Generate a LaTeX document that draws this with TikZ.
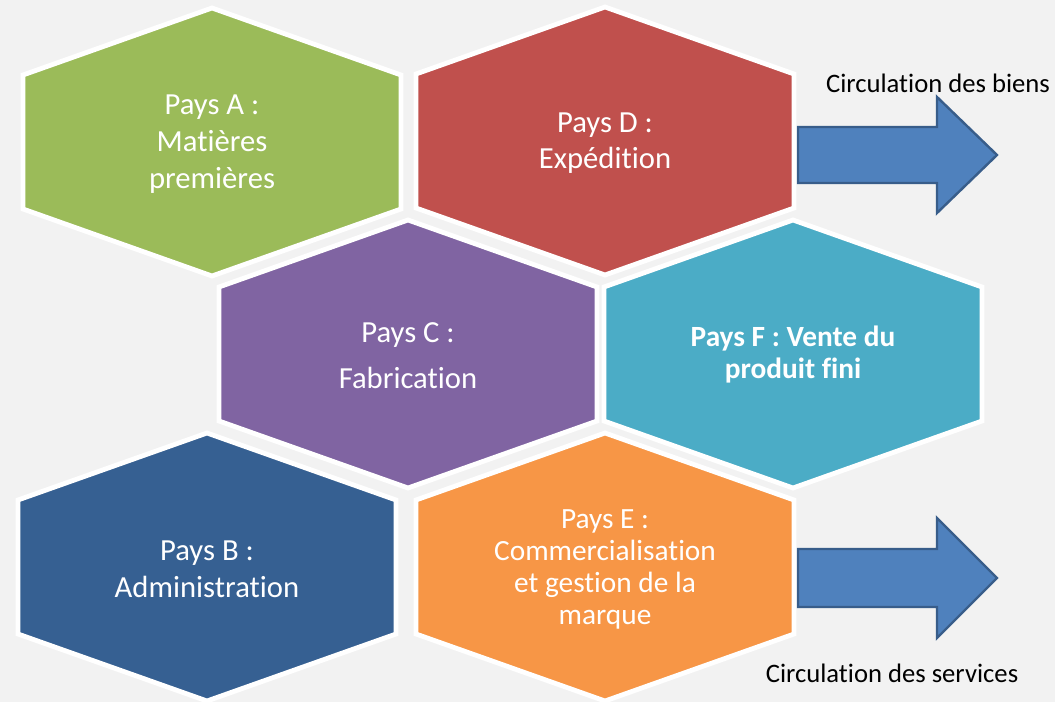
\documentclass[tikz,border=0pt]{standalone}
\usepackage{fontspec}
\setmainfont{Carlito}[Ligatures={NoCommon}]
\usetikzlibrary{positioning}

\definecolor{fond}{HTML}{F2F2F2}
\definecolor{hexvert}{HTML}{9BBB59}
\definecolor{hexrouge}{HTML}{C0504D}
\definecolor{hexviolet}{HTML}{8064A2}
\definecolor{hexturquoise}{HTML}{4BACC6}
\definecolor{hexbleu}{HTML}{366092}
\definecolor{hexorange}{HTML}{F79646}
\definecolor{flechefond}{HTML}{4F81BD}
\definecolor{flechebord}{HTML}{385D8A}

\begin{document}
\begin{tikzpicture}[
  x=0.75pt, y=-0.75pt,
  font=\fontsize{23}{27.5}\selectfont,
  hexline/.style={draw=white, line width=3.6pt, line join=miter},
  pays/.style={text=white, align=center, inner sep=0pt},
  flux/.style={draw=flechebord, fill=flechefond, line width=1.8pt, line join=miter},
  legende/.style={font=\fontsize{20}{24}\selectfont, text=black, inner sep=0pt},
  pics/hexa/.style={code={
    \path[hexline, fill=#1] (-189,-67) -- (0,-134) -- (189,-67) -- (189,67)
      -- (0,134) -- (-189,67) -- cycle;}}
]
% background and page size
\fill[fond] (0,0) rectangle (1055,702);
\useasboundingbox (0,0) rectangle (1055,702);

% flow arrows, behind the hexagons
\coordinate (biens) at (798,155);
\coordinate (services) at (798,578);
\draw[flux] (biens) ++(0,-28) -- ++(139,0) -- ++(0,-30) -- ++(60,58)
  -- ++(-60,58) -- ++(0,-30) -- ++(-139,0) -- cycle;
\draw[flux] (services) ++(0,-29) -- ++(139,0) -- ++(0,-31) -- ++(60,60)
  -- ++(-60,60) -- ++(0,-31) -- ++(-139,0) -- cycle;

% ---- top row
\pic at (212,142) {hexa=hexvert};
\pic at (605,141) {hexa=hexrouge};
% ---- middle row
\pic at (408,354) {hexa=hexviolet};
\pic at (793,354) {hexa=hexturquoise};
% ---- bottom row
\pic at (207,567) {hexa=hexbleu};
\pic at (605,567) {hexa=hexorange};

% country labels
\node[pays] (paysA) at (212,144) {Pays A :\\Matières\\premières};
\node[pays] (paysD) at (605,143) {Pays D :\\Expédition};
\node[pays] (paysC) at (408,356) {Pays C :\\[7pt]Fabrication};
\node[pays, font=\fontsize{22}{24}\selectfont\bfseries] (paysF) at (793,355)
  {Pays F : Vente du\\produit fini};
\node[pays] (paysB) at (207,569) {Pays B :\\Administration};
\node[pays, font=\fontsize{22}{24}\selectfont] (paysE) at (605,569)
  {Pays E :\\Commercialisation\\et gestion de la\\marque};

% flow captions
\node[legende] (lbiens) at (938,83) {Circulation des biens};
\node[legende] (lservices) at (892,673) {Circulation des services};
\end{tikzpicture}
\end{document}
